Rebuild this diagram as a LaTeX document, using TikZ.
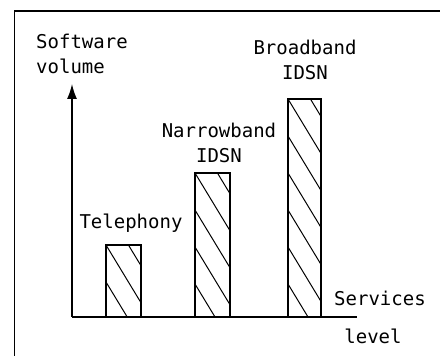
\documentclass[tikz,border=0pt]{standalone}
\usepackage{fontspec}
\setmonofont{DejaVu Sans Mono}
\usetikzlibrary{arrows.meta}

\begin{document}
\begin{tikzpicture}[x=1pt, y=1pt,
		lbl/.style={font=\ttfamily\fontsize{19}{25}\selectfont, align=center, inner sep=0pt},
		bar/.style={line width=1.4pt},
		hatch/.style={line width=1pt}]
		\useasboundingbox (0,0) rectangle (440,356);
		% frame
		\draw[line width=1.3pt] (14.5,0) |- (440,345);
		% axes
		\coordinate (o) at (72,39);
		\coordinate (ytip) at (72,272);
		\coordinate (xend) at (357,39);
		\draw[line width=1.4pt, -{Latex[length=15pt, width=10pt]}] (o) -- (ytip);
		\draw[line width=1.4pt] (o) -- (xend);
		% hatched bars
		\foreach \xa/\xb/\yt in {106/141/111, 195/230/183, 288/321/257}{
			\begin{scope}
				\clip (\xa,39) rectangle (\xb,\yt);
				\foreach \k in {-2,...,7}
					\draw[hatch] (\xa,{\yt-37*\k}) -- ++(60,-99);
			\end{scope}
			\draw[bar] (\xa,39) rectangle (\xb,\yt);
		}
		% labels
		\node[lbl, anchor=base west, align=left] (ylab) at (36,282) {Software\\volume};
		\node[lbl, anchor=base] (tel) at (131,127) {Telephony};
		\node[lbl, anchor=base] (nb) at (219,193) {Narrowband\\IDSN};
		\node[lbl, anchor=base] (bb) at (305,276) {Broadband\\IDSN};
		\node[lbl, anchor=base] (xlab) at (380,50) {Services};
		\node[lbl, anchor=base] (xlab2) at (373,12) {level};
	\end{tikzpicture}
\end{document}
